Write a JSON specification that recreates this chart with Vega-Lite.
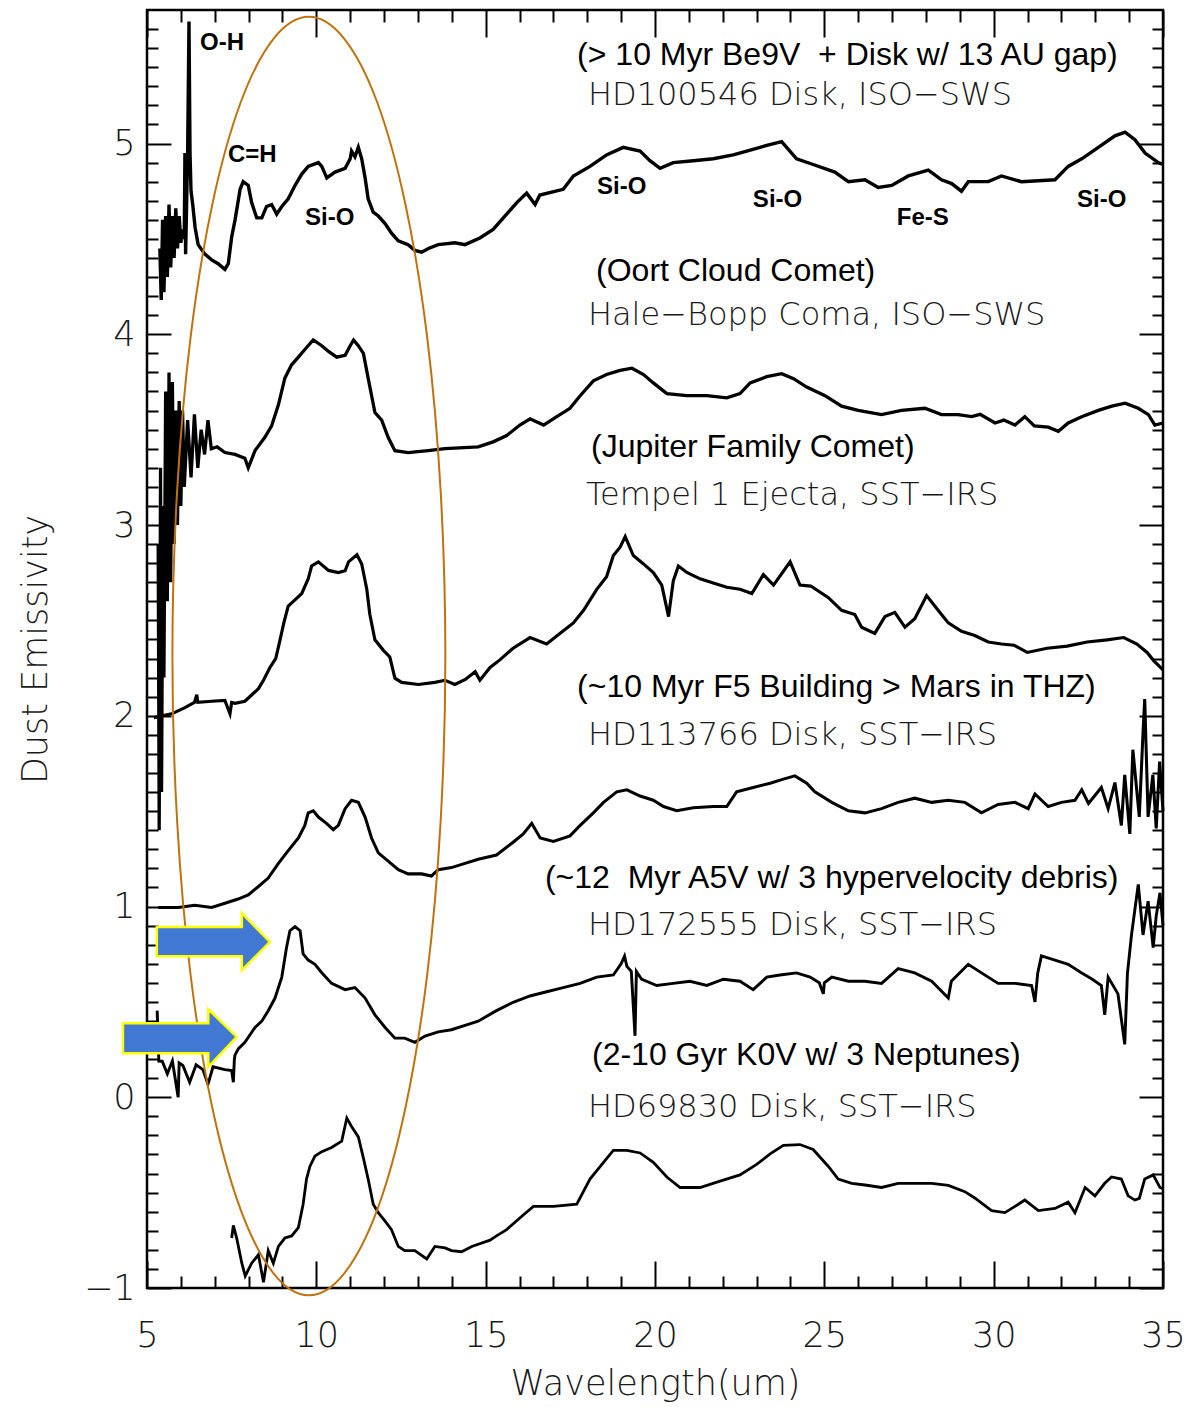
{
"$schema":"https://vega.github.io/schema/vega-lite/v6.json",
"width":1016,"height":1278,
"autosize":"none",
"padding":{"left":147,"top":10,"right":40,"bottom":119},
"background":"white",
"config":{"view":{"stroke":"black","strokeWidth":2.5},
"axis":{"grid":false,"domain":false,"labelFlush":false,"labelFont":"DejaVu Sans","labelFontWeight":200,"labelFontSize":35,"labelColor":"#1a1a1a","titleFont":"DejaVu Sans","titleFontWeight":200,"titleFontSize":35,"titleColor":"#1a1a1a","tickColor":"black","tickWidth":2}},
"datasets":{
"spec":[
{"s":"HD100546","w":5.38,"v":4.45},{"s":"HD100546","w":5.42,"v":4.18},{"s":"HD100546","w":5.46,"v":4.6},{"s":"HD100546","w":5.5,"v":4.22},{"s":"HD100546","w":5.55,"v":4.62},{"s":"HD100546","w":5.6,"v":4.3},{"s":"HD100546","w":5.65,"v":4.68},{"s":"HD100546","w":5.7,"v":4.35},{"s":"HD100546","w":5.75,"v":4.62},{"s":"HD100546","w":5.8,"v":4.4},{"s":"HD100546","w":5.85,"v":4.66},{"s":"HD100546","w":5.9,"v":4.45},{"s":"HD100546","w":5.95,"v":4.62},{"s":"HD100546","w":6.0,"v":4.48},{"s":"HD100546","w":6.05,"v":4.55},{"s":"HD100546","w":6.1,"v":4.5},{"s":"HD100546","w":6.12,"v":4.95},{"s":"HD100546","w":6.14,"v":4.42},{"s":"HD100546","w":6.2,"v":4.95},{"s":"HD100546","w":6.24,"v":5.64},{"s":"HD100546","w":6.27,"v":4.95},{"s":"HD100546","w":6.3,"v":4.75},{"s":"HD100546","w":6.35,"v":4.68},{"s":"HD100546","w":6.42,"v":4.56},{"s":"HD100546","w":6.51,"v":4.47},{"s":"HD100546","w":6.71,"v":4.42},{"s":"HD100546","w":6.91,"v":4.39},{"s":"HD100546","w":7.1,"v":4.37},{"s":"HD100546","w":7.3,"v":4.34},{"s":"HD100546","w":7.4,"v":4.37},{"s":"HD100546","w":7.5,"v":4.51},{"s":"HD100546","w":7.6,"v":4.6},{"s":"HD100546","w":7.75,"v":4.76},{"s":"HD100546","w":7.84,"v":4.8},{"s":"HD100546","w":7.99,"v":4.78},{"s":"HD100546","w":8.09,"v":4.69},{"s":"HD100546","w":8.24,"v":4.61},{"s":"HD100546","w":8.39,"v":4.61},{"s":"HD100546","w":8.53,"v":4.67},{"s":"HD100546","w":8.68,"v":4.68},{"s":"HD100546","w":8.83,"v":4.63},{"s":"HD100546","w":8.98,"v":4.67},{"s":"HD100546","w":9.17,"v":4.71},{"s":"HD100546","w":9.37,"v":4.78},{"s":"HD100546","w":9.57,"v":4.84},{"s":"HD100546","w":9.76,"v":4.88},{"s":"HD100546","w":10.06,"v":4.9},{"s":"HD100546","w":10.16,"v":4.88},{"s":"HD100546","w":10.31,"v":4.82},{"s":"HD100546","w":10.55,"v":4.85},{"s":"HD100546","w":10.85,"v":4.87},{"s":"HD100546","w":11.0,"v":4.92},{"s":"HD100546","w":11.04,"v":4.96},{"s":"HD100546","w":11.14,"v":4.93},{"s":"HD100546","w":11.24,"v":4.98},{"s":"HD100546","w":11.34,"v":4.92},{"s":"HD100546","w":11.44,"v":4.82},{"s":"HD100546","w":11.53,"v":4.71},{"s":"HD100546","w":11.68,"v":4.64},{"s":"HD100546","w":11.83,"v":4.62},{"s":"HD100546","w":12.03,"v":4.58},{"s":"HD100546","w":12.22,"v":4.53},{"s":"HD100546","w":12.42,"v":4.49},{"s":"HD100546","w":12.71,"v":4.47},{"s":"HD100546","w":12.91,"v":4.44},{"s":"HD100546","w":13.11,"v":4.43},{"s":"HD100546","w":13.31,"v":4.45},{"s":"HD100546","w":13.6,"v":4.47},{"s":"HD100546","w":14.09,"v":4.48},{"s":"HD100546","w":14.39,"v":4.47},{"s":"HD100546","w":14.83,"v":4.505},{"s":"HD100546","w":15.22,"v":4.55},{"s":"HD100546","w":15.62,"v":4.63},{"s":"HD100546","w":15.92,"v":4.69},{"s":"HD100546","w":16.21,"v":4.74},{"s":"HD100546","w":16.46,"v":4.68},{"s":"HD100546","w":16.6,"v":4.73},{"s":"HD100546","w":17.29,"v":4.76},{"s":"HD100546","w":17.59,"v":4.83},{"s":"HD100546","w":18.08,"v":4.88},{"s":"HD100546","w":18.57,"v":4.94},{"s":"HD100546","w":19.06,"v":4.98},{"s":"HD100546","w":19.56,"v":4.96},{"s":"HD100546","w":19.85,"v":4.91},{"s":"HD100546","w":20.15,"v":4.87},{"s":"HD100546","w":20.54,"v":4.9},{"s":"HD100546","w":21.13,"v":4.91},{"s":"HD100546","w":21.72,"v":4.92},{"s":"HD100546","w":22.31,"v":4.94},{"s":"HD100546","w":22.71,"v":4.96},{"s":"HD100546","w":23.3,"v":4.99},{"s":"HD100546","w":23.74,"v":5.01},{"s":"HD100546","w":24.18,"v":4.92},{"s":"HD100546","w":24.67,"v":4.89},{"s":"HD100546","w":25.31,"v":4.85},{"s":"HD100546","w":25.71,"v":4.8},{"s":"HD100546","w":26.2,"v":4.81},{"s":"HD100546","w":26.59,"v":4.77},{"s":"HD100546","w":26.99,"v":4.78},{"s":"HD100546","w":27.48,"v":4.83},{"s":"HD100546","w":28.07,"v":4.86},{"s":"HD100546","w":28.46,"v":4.81},{"s":"HD100546","w":28.76,"v":4.79},{"s":"HD100546","w":29.05,"v":4.75},{"s":"HD100546","w":29.25,"v":4.8},{"s":"HD100546","w":29.84,"v":4.8},{"s":"HD100546","w":30.23,"v":4.83},{"s":"HD100546","w":30.82,"v":4.8},{"s":"HD100546","w":31.81,"v":4.81},{"s":"HD100546","w":32.2,"v":4.88},{"s":"HD100546","w":32.6,"v":4.92},{"s":"HD100546","w":33.09,"v":4.98},{"s":"HD100546","w":33.58,"v":5.04},{"s":"HD100546","w":33.88,"v":5.06},{"s":"HD100546","w":34.17,"v":5.02},{"s":"HD100546","w":34.47,"v":4.95},{"s":"HD100546","w":34.86,"v":4.9},{"s":"HD100546","w":35,"v":4.89},
{"s":"HaleBopp","w":5.33,"v":2.9},{"s":"HaleBopp","w":5.36,"v":1.4},{"s":"HaleBopp","w":5.4,"v":3.3},{"s":"HaleBopp","w":5.43,"v":1.6},{"s":"HaleBopp","w":5.47,"v":3.1},{"s":"HaleBopp","w":5.5,"v":2.2},{"s":"HaleBopp","w":5.55,"v":3.7},{"s":"HaleBopp","w":5.6,"v":2.6},{"s":"HaleBopp","w":5.65,"v":3.8},{"s":"HaleBopp","w":5.7,"v":2.7},{"s":"HaleBopp","w":5.75,"v":3.75},{"s":"HaleBopp","w":5.8,"v":2.9},{"s":"HaleBopp","w":5.85,"v":3.6},{"s":"HaleBopp","w":5.9,"v":3.0},{"s":"HaleBopp","w":5.95,"v":3.65},{"s":"HaleBopp","w":6.0,"v":3.1},{"s":"HaleBopp","w":6.05,"v":3.6},{"s":"HaleBopp","w":6.1,"v":3.2},{"s":"HaleBopp","w":6.2,"v":3.55},{"s":"HaleBopp","w":6.3,"v":3.25},{"s":"HaleBopp","w":6.4,"v":3.58},{"s":"HaleBopp","w":6.5,"v":3.3},{"s":"HaleBopp","w":6.6,"v":3.5},{"s":"HaleBopp","w":6.7,"v":3.37},{"s":"HaleBopp","w":6.8,"v":3.55},{"s":"HaleBopp","w":6.9,"v":3.4},{"s":"HaleBopp","w":7.07,"v":3.41},{"s":"HaleBopp","w":7.3,"v":3.38},{"s":"HaleBopp","w":7.6,"v":3.37},{"s":"HaleBopp","w":7.89,"v":3.35},{"s":"HaleBopp","w":7.99,"v":3.3},{"s":"HaleBopp","w":8.19,"v":3.39},{"s":"HaleBopp","w":8.48,"v":3.46},{"s":"HaleBopp","w":8.68,"v":3.52},{"s":"HaleBopp","w":8.88,"v":3.63},{"s":"HaleBopp","w":9.07,"v":3.77},{"s":"HaleBopp","w":9.27,"v":3.84},{"s":"HaleBopp","w":9.47,"v":3.88},{"s":"HaleBopp","w":9.66,"v":3.92},{"s":"HaleBopp","w":9.91,"v":3.97},{"s":"HaleBopp","w":10.16,"v":3.94},{"s":"HaleBopp","w":10.36,"v":3.91},{"s":"HaleBopp","w":10.6,"v":3.88},{"s":"HaleBopp","w":10.85,"v":3.89},{"s":"HaleBopp","w":11.0,"v":3.94},{"s":"HaleBopp","w":11.1,"v":3.97},{"s":"HaleBopp","w":11.24,"v":3.94},{"s":"HaleBopp","w":11.39,"v":3.9},{"s":"HaleBopp","w":11.53,"v":3.77},{"s":"HaleBopp","w":11.73,"v":3.59},{"s":"HaleBopp","w":11.93,"v":3.55},{"s":"HaleBopp","w":12.12,"v":3.46},{"s":"HaleBopp","w":12.32,"v":3.39},{"s":"HaleBopp","w":12.71,"v":3.38},{"s":"HaleBopp","w":13.3,"v":3.39},{"s":"HaleBopp","w":13.8,"v":3.4},{"s":"HaleBopp","w":14.78,"v":3.41},{"s":"HaleBopp","w":15.22,"v":3.436},{"s":"HaleBopp","w":15.62,"v":3.469},{"s":"HaleBopp","w":16.01,"v":3.524},{"s":"HaleBopp","w":16.31,"v":3.557},{"s":"HaleBopp","w":16.71,"v":3.524},{"s":"HaleBopp","w":17.1,"v":3.568},{"s":"HaleBopp","w":17.49,"v":3.612},{"s":"HaleBopp","w":17.79,"v":3.678},{"s":"HaleBopp","w":18.18,"v":3.756},{"s":"HaleBopp","w":18.57,"v":3.789},{"s":"HaleBopp","w":18.97,"v":3.811},{"s":"HaleBopp","w":19.32,"v":3.822},{"s":"HaleBopp","w":19.66,"v":3.789},{"s":"HaleBopp","w":19.95,"v":3.745},{"s":"HaleBopp","w":20.35,"v":3.689},{"s":"HaleBopp","w":20.94,"v":3.678},{"s":"HaleBopp","w":21.53,"v":3.678},{"s":"HaleBopp","w":22.12,"v":3.667},{"s":"HaleBopp","w":22.51,"v":3.689},{"s":"HaleBopp","w":22.81,"v":3.745},{"s":"HaleBopp","w":23.3,"v":3.778},{"s":"HaleBopp","w":23.74,"v":3.793},{"s":"HaleBopp","w":24.09,"v":3.767},{"s":"HaleBopp","w":24.48,"v":3.723},{"s":"HaleBopp","w":25.02,"v":3.678},{"s":"HaleBopp","w":25.51,"v":3.623},{"s":"HaleBopp","w":26.0,"v":3.601},{"s":"HaleBopp","w":26.69,"v":3.579},{"s":"HaleBopp","w":27.28,"v":3.601},{"s":"HaleBopp","w":27.97,"v":3.612},{"s":"HaleBopp","w":28.46,"v":3.579},{"s":"HaleBopp","w":28.95,"v":3.579},{"s":"HaleBopp","w":29.35,"v":3.568},{"s":"HaleBopp","w":29.6,"v":3.58},{"s":"HaleBopp","w":30.04,"v":3.535},{"s":"HaleBopp","w":30.3,"v":3.55},{"s":"HaleBopp","w":30.63,"v":3.524},{"s":"HaleBopp","w":30.92,"v":3.568},{"s":"HaleBopp","w":31.2,"v":3.52},{"s":"HaleBopp","w":31.61,"v":3.513},{"s":"HaleBopp","w":31.91,"v":3.491},{"s":"HaleBopp","w":32.2,"v":3.535},{"s":"HaleBopp","w":32.6,"v":3.568},{"s":"HaleBopp","w":33.09,"v":3.601},{"s":"HaleBopp","w":33.49,"v":3.623},{"s":"HaleBopp","w":33.88,"v":3.639},{"s":"HaleBopp","w":34.27,"v":3.612},{"s":"HaleBopp","w":34.57,"v":3.579},{"s":"HaleBopp","w":34.76,"v":3.524},{"s":"HaleBopp","w":35,"v":3.535},
{"s":"Tempel1","w":5.2,"v":1.99},{"s":"Tempel1","w":5.73,"v":2.01},{"s":"Tempel1","w":6.12,"v":2.043},{"s":"Tempel1","w":6.4,"v":2.07},{"s":"Tempel1","w":6.47,"v":2.11},{"s":"Tempel1","w":6.5,"v":2.07},{"s":"Tempel1","w":6.91,"v":2.076},{"s":"Tempel1","w":7.3,"v":2.08},{"s":"Tempel1","w":7.45,"v":2.01},{"s":"Tempel1","w":7.5,"v":2.07},{"s":"Tempel1","w":7.6,"v":2.065},{"s":"Tempel1","w":7.89,"v":2.076},{"s":"Tempel1","w":8.09,"v":2.109},{"s":"Tempel1","w":8.29,"v":2.142},{"s":"Tempel1","w":8.44,"v":2.186},{"s":"Tempel1","w":8.63,"v":2.253},{"s":"Tempel1","w":8.8,"v":2.3},{"s":"Tempel1","w":8.9,"v":2.376},{"s":"Tempel1","w":9.04,"v":2.487},{"s":"Tempel1","w":9.17,"v":2.575},{"s":"Tempel1","w":9.37,"v":2.608},{"s":"Tempel1","w":9.57,"v":2.641},{"s":"Tempel1","w":9.76,"v":2.718},{"s":"Tempel1","w":9.86,"v":2.785},{"s":"Tempel1","w":10.06,"v":2.807},{"s":"Tempel1","w":10.36,"v":2.762},{"s":"Tempel1","w":10.65,"v":2.751},{"s":"Tempel1","w":10.85,"v":2.76},{"s":"Tempel1","w":10.95,"v":2.807},{"s":"Tempel1","w":11.2,"v":2.844},{"s":"Tempel1","w":11.34,"v":2.796},{"s":"Tempel1","w":11.49,"v":2.663},{"s":"Tempel1","w":11.58,"v":2.531},{"s":"Tempel1","w":11.73,"v":2.398},{"s":"Tempel1","w":11.98,"v":2.343},{"s":"Tempel1","w":12.17,"v":2.308},{"s":"Tempel1","w":12.32,"v":2.197},{"s":"Tempel1","w":12.52,"v":2.175},{"s":"Tempel1","w":13.01,"v":2.164},{"s":"Tempel1","w":13.5,"v":2.175},{"s":"Tempel1","w":13.8,"v":2.186},{"s":"Tempel1","w":14.09,"v":2.164},{"s":"Tempel1","w":14.4,"v":2.19},{"s":"Tempel1","w":14.69,"v":2.231},{"s":"Tempel1","w":14.83,"v":2.186},{"s":"Tempel1","w":15.13,"v":2.253},{"s":"Tempel1","w":15.42,"v":2.293},{"s":"Tempel1","w":15.81,"v":2.354},{"s":"Tempel1","w":16.31,"v":2.41},{"s":"Tempel1","w":16.8,"v":2.376},{"s":"Tempel1","w":17.2,"v":2.432},{"s":"Tempel1","w":17.59,"v":2.487},{"s":"Tempel1","w":17.89,"v":2.553},{"s":"Tempel1","w":18.28,"v":2.663},{"s":"Tempel1","w":18.57,"v":2.729},{"s":"Tempel1","w":18.77,"v":2.84},{"s":"Tempel1","w":18.97,"v":2.884},{"s":"Tempel1","w":19.12,"v":2.939},{"s":"Tempel1","w":19.36,"v":2.84},{"s":"Tempel1","w":19.66,"v":2.796},{"s":"Tempel1","w":19.95,"v":2.751},{"s":"Tempel1","w":20.2,"v":2.685},{"s":"Tempel1","w":20.4,"v":2.52},{"s":"Tempel1","w":20.54,"v":2.707},{"s":"Tempel1","w":20.69,"v":2.785},{"s":"Tempel1","w":20.94,"v":2.751},{"s":"Tempel1","w":21.33,"v":2.718},{"s":"Tempel1","w":21.72,"v":2.696},{"s":"Tempel1","w":22.12,"v":2.674},{"s":"Tempel1","w":22.51,"v":2.663},{"s":"Tempel1","w":22.86,"v":2.641},{"s":"Tempel1","w":23.2,"v":2.74},{"s":"Tempel1","w":23.5,"v":2.685},{"s":"Tempel1","w":23.99,"v":2.807},{"s":"Tempel1","w":24.28,"v":2.685},{"s":"Tempel1","w":24.6,"v":2.68},{"s":"Tempel1","w":25.12,"v":2.619},{"s":"Tempel1","w":25.51,"v":2.553},{"s":"Tempel1","w":25.9,"v":2.531},{"s":"Tempel1","w":26.1,"v":2.464},{"s":"Tempel1","w":26.49,"v":2.432},{"s":"Tempel1","w":26.79,"v":2.52},{"s":"Tempel1","w":27.08,"v":2.542},{"s":"Tempel1","w":27.38,"v":2.464},{"s":"Tempel1","w":27.67,"v":2.509},{"s":"Tempel1","w":28.02,"v":2.63},{"s":"Tempel1","w":28.36,"v":2.553},{"s":"Tempel1","w":28.66,"v":2.487},{"s":"Tempel1","w":29.05,"v":2.443},{"s":"Tempel1","w":29.44,"v":2.421},{"s":"Tempel1","w":29.84,"v":2.387},{"s":"Tempel1","w":30.23,"v":2.376},{"s":"Tempel1","w":30.6,"v":2.37},{"s":"Tempel1","w":30.99,"v":2.332},{"s":"Tempel1","w":31.58,"v":2.354},{"s":"Tempel1","w":32.17,"v":2.365},{"s":"Tempel1","w":32.76,"v":2.387},{"s":"Tempel1","w":33.35,"v":2.398},{"s":"Tempel1","w":33.84,"v":2.41},{"s":"Tempel1","w":34.23,"v":2.376},{"s":"Tempel1","w":34.53,"v":2.332},{"s":"Tempel1","w":34.73,"v":2.288},{"s":"Tempel1","w":35,"v":2.24},
{"s":"HD113766","w":5.33,"v":0.995},{"s":"HD113766","w":5.92,"v":0.995},{"s":"HD113766","w":6.41,"v":1.006},{"s":"HD113766","w":6.91,"v":0.995},{"s":"HD113766","w":7.3,"v":1.017},{"s":"HD113766","w":7.69,"v":1.039},{"s":"HD113766","w":7.99,"v":1.061},{"s":"HD113766","w":8.29,"v":1.105},{"s":"HD113766","w":8.58,"v":1.149},{"s":"HD113766","w":8.88,"v":1.226},{"s":"HD113766","w":9.17,"v":1.293},{"s":"HD113766","w":9.47,"v":1.359},{"s":"HD113766","w":9.66,"v":1.425},{"s":"HD113766","w":9.76,"v":1.491},{"s":"HD113766","w":9.91,"v":1.502},{"s":"HD113766","w":10.06,"v":1.469},{"s":"HD113766","w":10.3,"v":1.436},{"s":"HD113766","w":10.5,"v":1.403},{"s":"HD113766","w":10.65,"v":1.425},{"s":"HD113766","w":10.85,"v":1.513},{"s":"HD113766","w":11.04,"v":1.557},{"s":"HD113766","w":11.24,"v":1.546},{"s":"HD113766","w":11.44,"v":1.469},{"s":"HD113766","w":11.63,"v":1.359},{"s":"HD113766","w":11.83,"v":1.281},{"s":"HD113766","w":12.13,"v":1.237},{"s":"HD113766","w":12.42,"v":1.193},{"s":"HD113766","w":12.71,"v":1.171},{"s":"HD113766","w":13.11,"v":1.171},{"s":"HD113766","w":13.4,"v":1.16},{"s":"HD113766","w":13.6,"v":1.193},{"s":"HD113766","w":13.99,"v":1.204},{"s":"HD113766","w":14.39,"v":1.226},{"s":"HD113766","w":14.78,"v":1.248},{"s":"HD113766","w":15.32,"v":1.27},{"s":"HD113766","w":15.81,"v":1.337},{"s":"HD113766","w":16.11,"v":1.381},{"s":"HD113766","w":16.36,"v":1.436},{"s":"HD113766","w":16.61,"v":1.359},{"s":"HD113766","w":17.0,"v":1.341},{"s":"HD113766","w":17.49,"v":1.37},{"s":"HD113766","w":17.79,"v":1.425},{"s":"HD113766","w":18.18,"v":1.491},{"s":"HD113766","w":18.48,"v":1.546},{"s":"HD113766","w":18.87,"v":1.601},{"s":"HD113766","w":19.17,"v":1.612},{"s":"HD113766","w":19.56,"v":1.579},{"s":"HD113766","w":19.95,"v":1.557},{"s":"HD113766","w":20.25,"v":1.524},{"s":"HD113766","w":20.64,"v":1.502},{"s":"HD113766","w":21.13,"v":1.518},{"s":"HD113766","w":21.72,"v":1.524},{"s":"HD113766","w":22.12,"v":1.524},{"s":"HD113766","w":22.41,"v":1.601},{"s":"HD113766","w":22.9,"v":1.624},{"s":"HD113766","w":23.4,"v":1.646},{"s":"HD113766","w":23.79,"v":1.668},{"s":"HD113766","w":24.13,"v":1.685},{"s":"HD113766","w":24.48,"v":1.646},{"s":"HD113766","w":24.72,"v":1.601},{"s":"HD113766","w":25.22,"v":1.546},{"s":"HD113766","w":25.71,"v":1.502},{"s":"HD113766","w":26.2,"v":1.491},{"s":"HD113766","w":26.69,"v":1.513},{"s":"HD113766","w":27.18,"v":1.546},{"s":"HD113766","w":27.67,"v":1.568},{"s":"HD113766","w":28.17,"v":1.546},{"s":"HD113766","w":28.66,"v":1.557},{"s":"HD113766","w":29.15,"v":1.546},{"s":"HD113766","w":29.64,"v":1.491},{"s":"HD113766","w":30.13,"v":1.535},{"s":"HD113766","w":30.63,"v":1.546},{"s":"HD113766","w":31.02,"v":1.513},{"s":"HD113766","w":31.22,"v":1.59},{"s":"HD113766","w":31.61,"v":1.524},{"s":"HD113766","w":32.0,"v":1.546},{"s":"HD113766","w":32.4,"v":1.557},{"s":"HD113766","w":32.6,"v":1.612},{"s":"HD113766","w":32.8,"v":1.54},{"s":"HD113766","w":33.18,"v":1.624},{"s":"HD113766","w":33.38,"v":1.513},{"s":"HD113766","w":33.58,"v":1.65},{"s":"HD113766","w":33.77,"v":1.425},{"s":"HD113766","w":33.87,"v":1.69},{"s":"HD113766","w":34.02,"v":1.381},{"s":"HD113766","w":34.11,"v":1.822},{"s":"HD113766","w":34.3,"v":1.47},{"s":"HD113766","w":34.41,"v":1.911},{"s":"HD113766","w":34.46,"v":2.087},{"s":"HD113766","w":34.56,"v":1.47},{"s":"HD113766","w":34.7,"v":1.69},{"s":"HD113766","w":34.8,"v":1.41},{"s":"HD113766","w":34.9,"v":1.76},{"s":"HD113766","w":35,"v":1.5},
{"s":"HD172555","w":5.3,"v":0.454},{"s":"HD172555","w":5.35,"v":0.19},{"s":"HD172555","w":5.45,"v":0.189},{"s":"HD172555","w":5.6,"v":0.123},{"s":"HD172555","w":5.75,"v":0.19},{"s":"HD172555","w":5.92,"v":0.0},{"s":"HD172555","w":5.95,"v":0.18},{"s":"HD172555","w":6.06,"v":0.167},{"s":"HD172555","w":6.26,"v":0.079},{"s":"HD172555","w":6.45,"v":0.17},{"s":"HD172555","w":6.65,"v":0.145},{"s":"HD172555","w":6.8,"v":0.068},{"s":"HD172555","w":6.95,"v":0.16},{"s":"HD172555","w":7.3,"v":0.145},{"s":"HD172555","w":7.5,"v":0.14},{"s":"HD172555","w":7.55,"v":0.079},{"s":"HD172555","w":7.58,"v":0.2},{"s":"HD172555","w":7.6,"v":0.222},{"s":"HD172555","w":7.7,"v":0.255},{"s":"HD172555","w":7.89,"v":0.288},{"s":"HD172555","w":8.19,"v":0.366},{"s":"HD172555","w":8.39,"v":0.399},{"s":"HD172555","w":8.58,"v":0.454},{"s":"HD172555","w":8.78,"v":0.52},{"s":"HD172555","w":8.98,"v":0.63},{"s":"HD172555","w":9.12,"v":0.785},{"s":"HD172555","w":9.22,"v":0.873},{"s":"HD172555","w":9.37,"v":0.895},{"s":"HD172555","w":9.52,"v":0.873},{"s":"HD172555","w":9.61,"v":0.752},{"s":"HD172555","w":9.76,"v":0.719},{"s":"HD172555","w":9.96,"v":0.697},{"s":"HD172555","w":10.16,"v":0.653},{"s":"HD172555","w":10.45,"v":0.597},{"s":"HD172555","w":10.85,"v":0.564},{"s":"HD172555","w":11.14,"v":0.575},{"s":"HD172555","w":11.44,"v":0.52},{"s":"HD172555","w":11.73,"v":0.432},{"s":"HD172555","w":12.03,"v":0.366},{"s":"HD172555","w":12.32,"v":0.31},{"s":"HD172555","w":12.61,"v":0.31},{"s":"HD172555","w":12.91,"v":0.288},{"s":"HD172555","w":13.21,"v":0.321},{"s":"HD172555","w":13.6,"v":0.343},{"s":"HD172555","w":13.99,"v":0.354},{"s":"HD172555","w":14.39,"v":0.377},{"s":"HD172555","w":14.78,"v":0.399},{"s":"HD172555","w":15.32,"v":0.454},{"s":"HD172555","w":15.81,"v":0.498},{"s":"HD172555","w":16.31,"v":0.531},{"s":"HD172555","w":16.8,"v":0.553},{"s":"HD172555","w":17.29,"v":0.575},{"s":"HD172555","w":17.79,"v":0.597},{"s":"HD172555","w":18.28,"v":0.63},{"s":"HD172555","w":18.77,"v":0.641},{"s":"HD172555","w":19.0,"v":0.7},{"s":"HD172555","w":19.1,"v":0.74},{"s":"HD172555","w":19.17,"v":0.686},{"s":"HD172555","w":19.3,"v":0.66},{"s":"HD172555","w":19.41,"v":0.322},{"s":"HD172555","w":19.45,"v":0.66},{"s":"HD172555","w":19.6,"v":0.62},{"s":"HD172555","w":20.05,"v":0.586},{"s":"HD172555","w":20.54,"v":0.597},{"s":"HD172555","w":21.03,"v":0.608},{"s":"HD172555","w":21.53,"v":0.586},{"s":"HD172555","w":22.02,"v":0.619},{"s":"HD172555","w":22.51,"v":0.608},{"s":"HD172555","w":22.9,"v":0.564},{"s":"HD172555","w":23.3,"v":0.63},{"s":"HD172555","w":23.69,"v":0.641},{"s":"HD172555","w":24.18,"v":0.652},{"s":"HD172555","w":24.58,"v":0.63},{"s":"HD172555","w":24.85,"v":0.6},{"s":"HD172555","w":24.97,"v":0.542},{"s":"HD172555","w":25.0,"v":0.6},{"s":"HD172555","w":25.22,"v":0.63},{"s":"HD172555","w":25.71,"v":0.608},{"s":"HD172555","w":26.2,"v":0.608},{"s":"HD172555","w":26.69,"v":0.597},{"s":"HD172555","w":27.18,"v":0.674},{"s":"HD172555","w":27.67,"v":0.652},{"s":"HD172555","w":28.17,"v":0.608},{"s":"HD172555","w":28.66,"v":0.52},{"s":"HD172555","w":28.75,"v":0.608},{"s":"HD172555","w":29.25,"v":0.697},{"s":"HD172555","w":29.64,"v":0.652},{"s":"HD172555","w":30.13,"v":0.597},{"s":"HD172555","w":30.63,"v":0.597},{"s":"HD172555","w":31.12,"v":0.586},{"s":"HD172555","w":31.22,"v":0.5},{"s":"HD172555","w":31.3,"v":0.65},{"s":"HD172555","w":31.41,"v":0.741},{"s":"HD172555","w":31.81,"v":0.719},{"s":"HD172555","w":32.2,"v":0.697},{"s":"HD172555","w":32.6,"v":0.652},{"s":"HD172555","w":32.9,"v":0.62},{"s":"HD172555","w":33.18,"v":0.586},{"s":"HD172555","w":33.28,"v":0.432},{"s":"HD172555","w":33.38,"v":0.63},{"s":"HD172555","w":33.67,"v":0.542},{"s":"HD172555","w":33.87,"v":0.277},{"s":"HD172555","w":33.95,"v":0.65},{"s":"HD172555","w":34.07,"v":0.851},{"s":"HD172555","w":34.17,"v":0.984},{"s":"HD172555","w":34.27,"v":1.116},{"s":"HD172555","w":34.41,"v":0.851},{"s":"HD172555","w":34.56,"v":1.028},{"s":"HD172555","w":34.71,"v":0.785},{"s":"HD172555","w":34.8,"v":0.95},{"s":"HD172555","w":34.91,"v":1.072},{"s":"HD172555","w":35,"v":0.9},
{"s":"HD69830","w":7.5,"v":-0.738},{"s":"HD69830","w":7.55,"v":-0.672},{"s":"HD69830","w":7.65,"v":-0.74},{"s":"HD69830","w":7.8,"v":-0.87},{"s":"HD69830","w":7.9,"v":-0.937},{"s":"HD69830","w":8.09,"v":-0.87},{"s":"HD69830","w":8.29,"v":-0.826},{"s":"HD69830","w":8.44,"v":-0.97},{"s":"HD69830","w":8.58,"v":-0.804},{"s":"HD69830","w":8.73,"v":-0.87},{"s":"HD69830","w":8.88,"v":-0.782},{"s":"HD69830","w":9.07,"v":-0.738},{"s":"HD69830","w":9.27,"v":-0.727},{"s":"HD69830","w":9.47,"v":-0.683},{"s":"HD69830","w":9.61,"v":-0.561},{"s":"HD69830","w":9.71,"v":-0.429},{"s":"HD69830","w":9.81,"v":-0.363},{"s":"HD69830","w":9.96,"v":-0.308},{"s":"HD69830","w":10.16,"v":-0.285},{"s":"HD69830","w":10.45,"v":-0.263},{"s":"HD69830","w":10.75,"v":-0.23},{"s":"HD69830","w":10.9,"v":-0.109},{"s":"HD69830","w":11.04,"v":-0.153},{"s":"HD69830","w":11.24,"v":-0.208},{"s":"HD69830","w":11.39,"v":-0.319},{"s":"HD69830","w":11.53,"v":-0.429},{"s":"HD69830","w":11.68,"v":-0.561},{"s":"HD69830","w":11.83,"v":-0.605},{"s":"HD69830","w":12.03,"v":-0.65},{"s":"HD69830","w":12.22,"v":-0.694},{"s":"HD69830","w":12.42,"v":-0.782},{"s":"HD69830","w":12.61,"v":-0.804},{"s":"HD69830","w":12.91,"v":-0.804},{"s":"HD69830","w":13.26,"v":-0.848},{"s":"HD69830","w":13.5,"v":-0.782},{"s":"HD69830","w":13.8,"v":-0.79},{"s":"HD69830","w":13.99,"v":-0.804},{"s":"HD69830","w":14.29,"v":-0.81},{"s":"HD69830","w":14.59,"v":-0.782},{"s":"HD69830","w":15.13,"v":-0.749},{"s":"HD69830","w":15.32,"v":-0.727},{"s":"HD69830","w":15.62,"v":-0.694},{"s":"HD69830","w":16.11,"v":-0.617},{"s":"HD69830","w":16.41,"v":-0.572},{"s":"HD69830","w":17.0,"v":-0.572},{"s":"HD69830","w":17.69,"v":-0.561},{"s":"HD69830","w":18.08,"v":-0.429},{"s":"HD69830","w":18.48,"v":-0.341},{"s":"HD69830","w":18.77,"v":-0.279},{"s":"HD69830","w":19.17,"v":-0.279},{"s":"HD69830","w":19.56,"v":-0.292},{"s":"HD69830","w":19.95,"v":-0.341},{"s":"HD69830","w":20.35,"v":-0.418},{"s":"HD69830","w":20.74,"v":-0.473},{"s":"HD69830","w":21.33,"v":-0.473},{"s":"HD69830","w":21.92,"v":-0.44},{"s":"HD69830","w":22.51,"v":-0.407},{"s":"HD69830","w":23.0,"v":-0.352},{"s":"HD69830","w":23.4,"v":-0.297},{"s":"HD69830","w":23.79,"v":-0.252},{"s":"HD69830","w":24.28,"v":-0.248},{"s":"HD69830","w":24.67,"v":-0.274},{"s":"HD69830","w":25.12,"v":-0.363},{"s":"HD69830","w":25.41,"v":-0.429},{"s":"HD69830","w":25.81,"v":-0.451},{"s":"HD69830","w":26.2,"v":-0.46},{"s":"HD69830","w":26.69,"v":-0.473},{"s":"HD69830","w":27.18,"v":-0.451},{"s":"HD69830","w":27.67,"v":-0.451},{"s":"HD69830","w":28.17,"v":-0.451},{"s":"HD69830","w":28.66,"v":-0.462},{"s":"HD69830","w":29.15,"v":-0.495},{"s":"HD69830","w":29.44,"v":-0.528},{"s":"HD69830","w":29.94,"v":-0.594},{"s":"HD69830","w":30.33,"v":-0.605},{"s":"HD69830","w":30.63,"v":-0.572},{"s":"HD69830","w":30.92,"v":-0.539},{"s":"HD69830","w":31.32,"v":-0.594},{"s":"HD69830","w":31.81,"v":-0.583},{"s":"HD69830","w":32.2,"v":-0.55},{"s":"HD69830","w":32.4,"v":-0.605},{"s":"HD69830","w":32.7,"v":-0.473},{"s":"HD69830","w":32.99,"v":-0.517},{"s":"HD69830","w":33.28,"v":-0.451},{"s":"HD69830","w":33.48,"v":-0.418},{"s":"HD69830","w":33.77,"v":-0.429},{"s":"HD69830","w":33.97,"v":-0.517},{"s":"HD69830","w":34.17,"v":-0.539},{"s":"HD69830","w":34.3,"v":-0.53},{"s":"HD69830","w":34.46,"v":-0.429},{"s":"HD69830","w":34.71,"v":-0.407},{"s":"HD69830","w":34.91,"v":-0.473},{"s":"HD69830","w":35,"v":-0.48}
],
"ell":[{"i":0,"w":9.78,"v":5.664},{"i":1,"w":10.82,"v":5.55},{"i":2,"w":11.8,"v":5.215},{"i":3,"w":12.63,"v":4.682},{"i":4,"w":13.27,"v":3.989},{"i":5,"w":13.67,"v":3.18},{"i":6,"w":13.81,"v":2.313},{"i":7,"w":13.67,"v":1.446},{"i":8,"w":13.27,"v":0.637},{"i":9,"w":12.63,"v":-0.056},{"i":10,"w":11.8,"v":-0.589},{"i":11,"w":10.82,"v":-0.924},{"i":12,"w":9.78,"v":-1.038},{"i":13,"w":8.74,"v":-0.924},{"i":14,"w":7.765,"v":-0.589},{"i":15,"w":6.93,"v":-0.056},{"i":16,"w":6.29,"v":0.637},{"i":17,"w":5.89,"v":1.446},{"i":18,"w":5.75,"v":2.313},{"i":19,"w":5.89,"v":3.18},{"i":20,"w":6.29,"v":3.989},{"i":21,"w":6.93,"v":4.682},{"i":22,"w":7.765,"v":5.215},{"i":23,"w":8.74,"v":5.55}],
"arr":[{"a":"upper","i":0,"w":5.29,"v":0.893},{"a":"upper","i":1,"w":7.8,"v":0.893},{"a":"upper","i":2,"w":7.8,"v":0.965},{"a":"upper","i":3,"w":8.63,"v":0.814},{"a":"upper","i":4,"w":7.8,"v":0.666},{"a":"upper","i":5,"w":7.8,"v":0.739},{"a":"upper","i":6,"w":5.29,"v":0.739},
{"a":"lower","i":0,"w":4.29,"v":0.388},{"a":"lower","i":1,"w":6.81,"v":0.388},{"a":"lower","i":2,"w":6.81,"v":0.461},{"a":"lower","i":3,"w":7.65,"v":0.316},{"a":"lower","i":4,"w":6.81,"v":0.159},{"a":"lower","i":5,"w":6.81,"v":0.231},{"a":"lower","i":6,"w":4.29,"v":0.231}],
"notes":[{"t":"(> 10 Myr Be9V\u00a0 + Disk w/ 13 AU gap)","w":17.7,"v":5.464},{"t":"(Oort Cloud Comet)","w":18.26,"v":4.33},{"t":"(Jupiter Family Comet)","w":18.11,"v":3.408},{"t":"(~10 Myr F5 Building > Mars in THZ)","w":17.7,"v":2.15},{"t":"(~12\u00a0 Myr A5V w/ 3 hypervelocity debris)","w":16.75,"v":1.148},{"t":"(2-10 Gyr K0V w/ 3 Neptunes)","w":18.14,"v":0.22}],
"names":[{"t":"HD100546 Disk, ISO−SWS","w":18.02,"v":5.254},{"t":"Hale−Bopp Coma, ISO−SWS","w":18.02,"v":4.1},{"t":"Tempel 1 Ejecta, SST−IRS","w":17.96,"v":3.157},{"t":"HD113766 Disk, SST−IRS","w":18.02,"v":1.898},{"t":"HD172555 Disk, SST−IRS","w":18.02,"v":0.902},{"t":"HD69830 Disk, SST−IRS","w":18.02,"v":-0.052}],
"bands":[{"t":"O-H","w":6.565,"v":5.527},{"t":"C=H","w":7.39,"v":4.94},{"t":"Si-O","w":9.665,"v":4.609},{"t":"Si-O","w":18.29,"v":4.772},{"t":"Si-O","w":22.89,"v":4.704},{"t":"Fe-S","w":27.14,"v":4.609},{"t":"Si-O","w":32.46,"v":4.704}]
},
"resolve":{"axis":{"x":"independent","y":"independent"}},
"layer":[
{"data":{"name":"spec"},"mark":{"type":"line","color":"black"},
"encoding":{
"x":{"field":"w","type":"quantitative","scale":{"domain":[5,35],"nice":false,"zero":false},"axis":{"orient":"bottom","values":[5,10,15,20,25,30,35],"ticks":false,"labelPadding":30,"title":"Wavelength(um)","titlePadding":13}},
"y":{"field":"v","type":"quantitative","scale":{"domain":[-1,5.7],"nice":false,"zero":false},"axis":{"orient":"left","values":[-1,0,1,2,3,4,5],"ticks":false,"labelPadding":12,"title":"Dust Emissivity","titlePadding":30}},
"detail":{"field":"s"},
"strokeWidth":{"field":"s","type":"nominal","scale":{"domain":["HD100546","HaleBopp","Tempel1","HD113766","HD172555","HD69830"],"range":[3.4,2.8,1.8,3.4,3.4,1.8]},"legend":null}}},
{"data":{"name":"ell"},"mark":{"type":"line","color":"#C0720C","strokeWidth":2,"interpolate":"cardinal-closed"},
"encoding":{
"x":{"field":"w","type":"quantitative","scale":{"domain":[5,35],"nice":false,"zero":false},"axis":{"orient":"bottom","values":[5,10,15,20,25,30,35],"tickSize":-27,"labels":false,"title":null}},
"y":{"field":"v","type":"quantitative","scale":{"domain":[-1,5.7],"nice":false,"zero":false},"axis":{"orient":"left","values":[-1,0,1,2,3,4,5],"tickSize":-24,"labels":false,"title":null}},
"order":{"field":"i","type":"quantitative"}}},
{"data":{"name":"arr"},"mark":{"type":"line","filled":true,"fill":"#4178D4","stroke":"#FFFF00","strokeWidth":2.5,"interpolate":"linear-closed"},
"encoding":{
"x":{"field":"w","type":"quantitative","scale":{"domain":[5,35],"nice":false,"zero":false},"axis":{"orient":"bottom","values":[6,7,8,9,11,12,13,14,16,17,18,19,21,22,23,24,26,27,28,29,31,32,33,34],"tickSize":-12,"labels":false,"title":null}},
"y":{"field":"v","type":"quantitative","scale":{"domain":[-1,5.7],"nice":false,"zero":false},"axis":{"orient":"left","values":[-0.9,-0.8,-0.7,-0.6,-0.5,-0.4,-0.3,-0.2,-0.1,0.1,0.2,0.3,0.4,0.5,0.6,0.7,0.8,0.9,1.1,1.2,1.3,1.4,1.5,1.6,1.7,1.8,1.9,2.1,2.2,2.3,2.4,2.5,2.6,2.7,2.8,2.9,3.1,3.2,3.3,3.4,3.5,3.6,3.7,3.8,3.9,4.1,4.2,4.3,4.4,4.5,4.6,4.7,4.8,4.9,5.1,5.2,5.3,5.4,5.5,5.6],"tickSize":-11,"labels":false,"title":null}},
"detail":{"field":"a"},
"order":{"field":"i","type":"quantitative"}}},
{"data":{"name":"notes"},"mark":{"type":"text","font":"Liberation Sans","fontSize":32,"align":"left","baseline":"middle","color":"black"},
"encoding":{
"x":{"field":"w","type":"quantitative","scale":{"domain":[5,35],"nice":false,"zero":false},"axis":{"orient":"top","values":[5,10,15,20,25,30,35],"tickSize":-27,"labels":false,"title":null}},
"y":{"field":"v","type":"quantitative","scale":{"domain":[-1,5.7],"nice":false,"zero":false},"axis":{"orient":"right","values":[-1,0,1,2,3,4,5],"tickSize":-24,"labels":false,"title":null}},
"text":{"field":"t"}}},
{"data":{"name":"names"},"mark":{"type":"text","font":"DejaVu Sans","fontWeight":200,"fontSize":32,"align":"left","baseline":"middle","color":"#1a1a1a"},
"encoding":{
"x":{"field":"w","type":"quantitative","scale":{"domain":[5,35],"nice":false,"zero":false},"axis":{"orient":"top","values":[6,7,8,9,11,12,13,14,16,17,18,19,21,22,23,24,26,27,28,29,31,32,33,34],"tickSize":-12,"labels":false,"title":null}},
"y":{"field":"v","type":"quantitative","scale":{"domain":[-1,5.7],"nice":false,"zero":false},"axis":{"orient":"right","values":[-0.9,-0.8,-0.7,-0.6,-0.5,-0.4,-0.3,-0.2,-0.1,0.1,0.2,0.3,0.4,0.5,0.6,0.7,0.8,0.9,1.1,1.2,1.3,1.4,1.5,1.6,1.7,1.8,1.9,2.1,2.2,2.3,2.4,2.5,2.6,2.7,2.8,2.9,3.1,3.2,3.3,3.4,3.5,3.6,3.7,3.8,3.9,4.1,4.2,4.3,4.4,4.5,4.6,4.7,4.8,4.9,5.1,5.2,5.3,5.4,5.5,5.6],"tickSize":-11,"labels":false,"title":null}},
"text":{"field":"t"}}},
{"data":{"name":"bands"},"mark":{"type":"text","font":"Liberation Sans","fontWeight":"bold","fontSize":24,"align":"left","baseline":"middle","color":"black"},
"encoding":{
"x":{"field":"w","type":"quantitative","scale":{"domain":[5,35],"nice":false,"zero":false},"axis":null},
"y":{"field":"v","type":"quantitative","scale":{"domain":[-1,5.7],"nice":false,"zero":false},"axis":null},
"text":{"field":"t"}}}
]
}
